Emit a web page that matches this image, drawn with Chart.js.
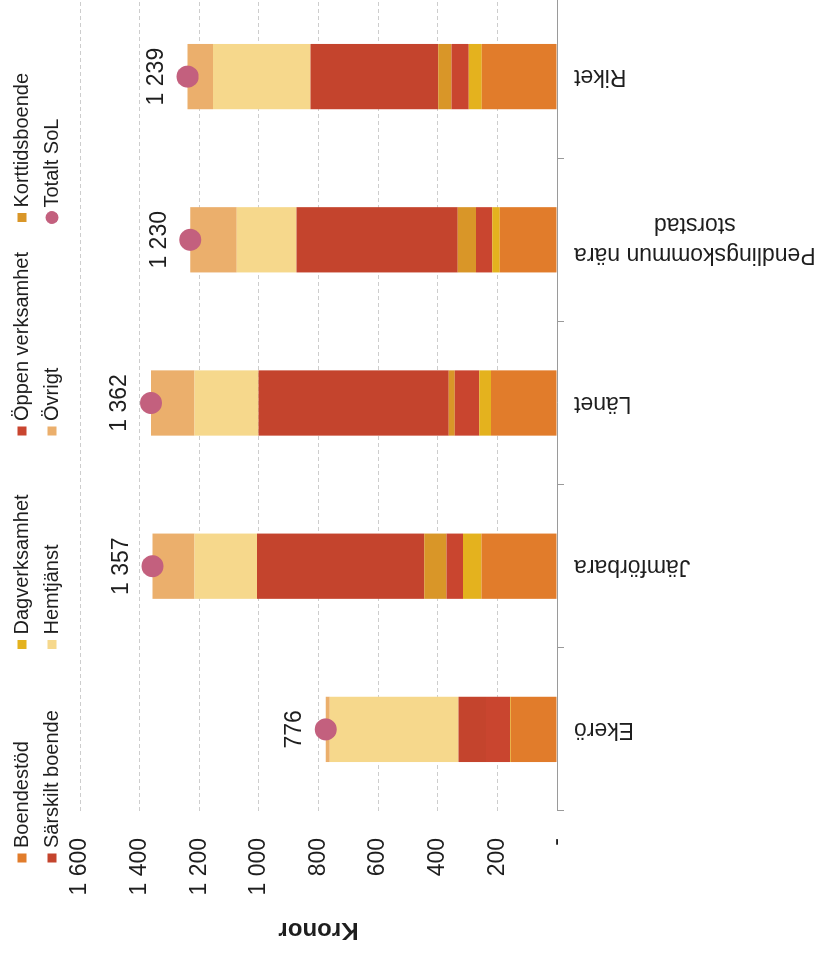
<!DOCTYPE html>
<html lang="sv">
<head>
<meta charset="utf-8">
<title>Kronor per invånare – Totalt SoL</title>
<script src="https://cdn.jsdelivr.net/npm/chart.js@4.4.1/dist/chart.umd.min.js"></script>
<style>
  html, body { margin: 0; padding: 0; background: #fff; overflow: hidden; }
  #page { width: 835px; height: 955px; position: relative; overflow: hidden; }
  /* the chart is drawn upright and then turned a quarter left, like the scanned page */
  #wrap { position: absolute; left: 0; top: 0; width: 960px; height: 835px;
          transform-origin: 0 0; transform: translateY(955px) rotate(-90deg); }
</style>
</head>
<body>
<div id="page"><div id="wrap"><canvas id="chart" width="960" height="835"></canvas></div></div>
<script>
// categories (left to right in the upright chart)
const categories = ['Ekerö', 'Jämförbara', 'Länet', ['Pendlingskommun nära', 'storstad'], 'Riket'];

// kronor per category, one array per cost type
const boendestod     = [155, 253, 221, 192, 252];
const dagverksamhet  = [3, 62, 40, 25, 44];
const oppenVerksamhet = [80, 56, 82, 55, 58];
const korttidsboende = [0, 74, 20, 61, 44];
const sarskiltBoende = [92, 561, 638, 541, 429];
const hemtjanst      = [432, 210, 215, 200, 327];
const ovrigt         = [14, 141, 146, 156, 85];
const totaltSol      = [776, 1357, 1362, 1230, 1239];

// value axis
const yTicks = [0, 200, 400, 600, 800, 1000, 1200, 1400, 1600];

const FONT = '"Liberation Sans", Arial, sans-serif';
const TEXT = '#1e1e1e';

function kr(v) {
  if (v === 0) return '-';
  return String(v).replace(/\B(?=(\d{3})+(?!\d))/g, ' ');
}

// legend laid out in a 4 x 2 grid like the original
const gridLegend = {
  id: 'gridLegend',
  afterDraw(chart) {
    const ctx = chart.ctx;
    ctx.save();
    ctx.font = '20px ' + FONT;
    ctx.textBaseline = 'middle';
    ctx.textAlign = 'left';
    chart.data.datasets.forEach((ds, i) => {
      const col = i % 4, row = Math.floor(i / 4);
      const cx = 97 + col * 213.5;
      const cy = 22 + row * 30;
      ctx.fillStyle = ds.backgroundColor;
      if (ds.type === 'line') {
        ctx.beginPath();
        ctx.arc(cx, cy, 6.5, 0, Math.PI * 2);
        ctx.fill();
      } else {
        ctx.fillRect(cx - 4.5, cy - 4.5, 9, 9);
      }
      ctx.fillStyle = TEXT;
      ctx.fillText(ds.label, cx + 10, cy);
    });
    ctx.restore();
  }
};

// category names, rotated and centred as a block under each bar
const categoryLabels = {
  id: 'categoryLabels',
  afterDraw(chart) {
    const x = chart.scales.x, ctx = chart.ctx;
    ctx.save();
    ctx.font = '23px ' + FONT;
    ctx.fillStyle = TEXT;
    ctx.textAlign = 'center';
    ctx.textBaseline = 'middle';
    categories.forEach((lab, i) => {
      const lines = [].concat(lab);
      const widest = Math.max(...lines.map(l => ctx.measureText(l).width));
      ctx.save();
      ctx.translate(x.getPixelForValue(i), x.top + 17 + widest / 2);
      ctx.rotate(-Math.PI / 2);
      lines.forEach((l, j) => ctx.fillText(l, 0, (j - (lines.length - 1) / 2) * 30));
      ctx.restore();
    });
    ctx.restore();
  }
};

// total values written above the dots
const totalLabels = {
  id: 'totalLabels',
  afterDatasetsDraw(chart) {
    const ctx = chart.ctx;
    const idx = chart.data.datasets.findIndex(d => d.type === 'line');
    const meta = chart.getDatasetMeta(idx);
    ctx.save();
    ctx.font = '23px ' + FONT;
    ctx.fillStyle = TEXT;
    ctx.textAlign = 'center';
    ctx.textBaseline = 'middle';
    meta.data.forEach((pt, i) => ctx.fillText(kr(totaltSol[i]), pt.x, pt.y - 31));
    ctx.restore();
  }
};

function bar(label, data, color) {
  return { type: 'bar', label, data, backgroundColor: color, borderWidth: 0, order: 1,
           barPercentage: 0.4, categoryPercentage: 1 };
}

new Chart(document.getElementById('chart'), {
  data: {
    labels: categories,
    datasets: [
      bar('Boendestöd', boendestod, '#e17c2b'),
      bar('Dagverksamhet', dagverksamhet, '#e4b21e'),
      bar('Öppen verksamhet', oppenVerksamhet, '#c9452f'),
      bar('Korttidsboende', korttidsboende, '#d99628'),
      bar('Särskilt boende', sarskiltBoende, '#c4442d'),
      bar('Hemtjänst', hemtjanst, '#f6d88c'),
      bar('Övrigt', ovrigt, '#ebaf6c'),
      {
        type: 'line', label: 'Totalt SoL', data: totaltSol, stack: 'sol', order: 0,
        showLine: false, backgroundColor: '#c3607e', borderColor: '#c3607e',
        pointRadius: 11, pointHoverRadius: 11, pointBorderWidth: 0
      }
    ]
  },
  options: {
    responsive: false,
    animation: false,
    layout: { autoPadding: false, padding: { top: 80, left: 0, right: 0, bottom: 0 } },
    plugins: { legend: { display: false }, tooltip: { enabled: false } },
    scales: {
      x: {
        stacked: true,
        offset: true,
        grid: { drawOnChartArea: false, drawTicks: true, tickLength: 7, color: '#9a9a9a', offset: true },
        border: { color: '#9a9a9a', width: 1 },
        ticks: { display: false },
        afterFit(scale) { scale.height = 278; }
      },
      y: {
        stacked: true,
        min: yTicks[0],
        max: yTicks[yTicks.length - 1],
        afterBuildTicks(scale) { scale.ticks = yTicks.map(v => ({ value: v })); },
        grid: { color: '#cdcdcd', drawTicks: false },
        border: { display: false, dash: [4, 3] },
        ticks: { font: { family: FONT, size: 23 }, color: TEXT, padding: 27, callback: v => kr(v) },
        title: { display: true, text: 'Kronor', color: TEXT,
                 font: { family: FONT, size: 24, weight: 'bold' }, padding: { top: 11, bottom: 0 } },
        afterFit(scale) { scale.width = 144; }
      }
    }
  },
  plugins: [gridLegend, categoryLabels, totalLabels]
});
</script>
</body>
</html>
